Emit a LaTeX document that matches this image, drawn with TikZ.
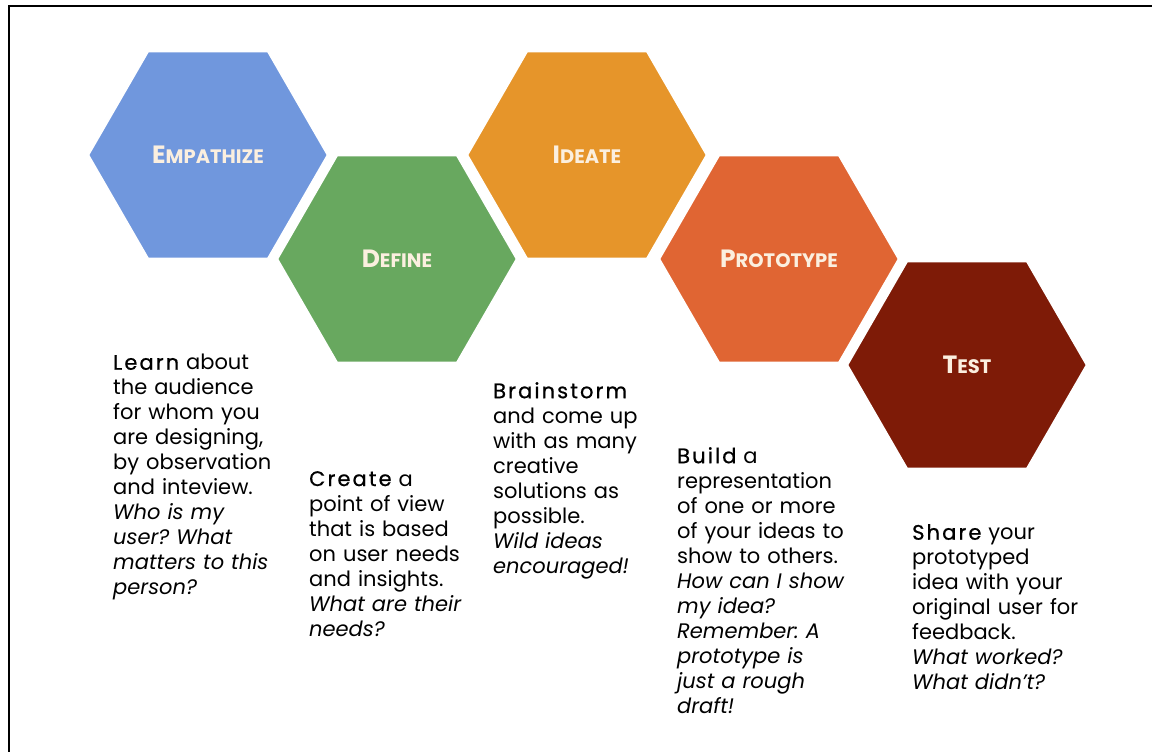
\documentclass[tikz,border=0pt]{standalone}
\usepackage{fontspec}
\setmainfont{Poppins}
\usetikzlibrary{shapes.geometric,positioning}
\definecolor{empblue}{HTML}{7097DD}
\definecolor{defgreen}{HTML}{68A85F}
\definecolor{ideorange}{HTML}{E6952A}
\definecolor{protorange}{HTML}{E06533}
\definecolor{testred}{HTML}{7E1B07}
\definecolor{labelcream}{HTML}{FBEFDF}
\newfontfamily\leadfont[LetterSpace=10,FakeBold=0.7]{Poppins}
\newcommand{\lead}[1]{{\leadfont #1}}
\newcommand{\hexlabel}[2]{{\bfseries\fontsize{25}{25}\selectfont #1\fontsize{19.5}{19.5}\selectfont #2}}
\frenchspacing

\begin{document}
\begin{tikzpicture}[x=1pt,y=-1pt,
    hexa/.style={regular polygon, regular polygon sides=6, minimum size=239pt,
      inner sep=0pt, draw=white, line width=1.5pt, text=labelcream},
    blurb/.style={anchor=north west, align=left, inner sep=0pt, text width=200pt,
      font=\fontsize{21}{25}\selectfont}]
      \useasboundingbox (0,0) rectangle (1152,752);
      \draw[line width=1.5pt] (1152,6) -| (9,752);
      \node[hexa, fill=empblue] (empathize) at (208,155) {\hexlabel{E}{MPATHIZE}};
      \node[hexa, fill=defgreen] (define) at (397,259) {\hexlabel{D}{EFINE}};
      \node[hexa, fill=ideorange] (ideate) at (587,155) {\hexlabel{I}{DEATE}};
      \node[hexa, fill=protorange] (prototype) at (779,259) {\hexlabel{P}{ROTOTYPE}};
      \node[hexa, fill=testred] (test) at (967,365) {\hexlabel{T}{EST}};
      \node[blurb] (learn) at (113,354) {\lead{Learn} about\\the audience\\for whom you\\are designing,\\by observation\\and inteview.\\
        \itshape Who is my\\user? What\\matters to this\\person?};
      \node[blurb] (create) at (309,471) {\lead{Create} a\\point of view\\that is based\\on user needs\\and insights.\\
        \itshape What are their\\needs?};
      \node[blurb] (brainstorm) at (493,382) {\lead{Brainstorm}\\and come up\\with as many\\creative\\solutions as\\possible.\\
        \itshape Wild ideas\\encouraged!};
      \node[blurb] (build) at (677,447) {\lead{Build} a\\representation\\of one or more\\of your ideas to\\show to others.\\
        \itshape How can I show\\my idea?\\Remember: A\\prototype is\\just a rough\\draft!};
      \node[blurb] (share) at (912,524) {\lead{Share} your\\prototyped\\idea with your\\original user for\\feedback.\\
        \itshape What worked?\\What didn’t?};
\end{tikzpicture}
\end{document}
